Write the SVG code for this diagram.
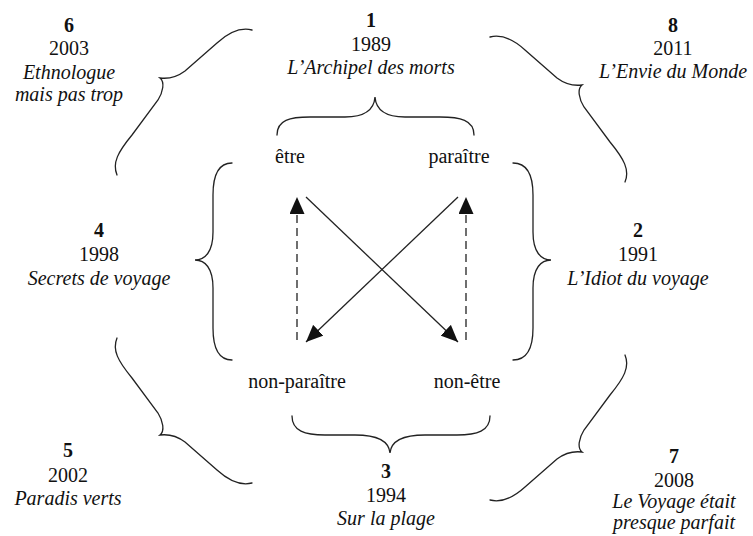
<svg xmlns="http://www.w3.org/2000/svg" xmlns:xlink="http://www.w3.org/1999/xlink" width="753" height="536" viewBox="0 0 753 536">
<style>
text{font-family:"Liberation Serif","Times New Roman",serif;font-size:20px;fill:#111;text-anchor:middle}
.num{font-weight:bold}
.ttl{font-style:italic}
.brace{fill:none;stroke:#222;stroke-width:1.3;stroke-linecap:round}
.arr{fill:none;stroke:#222;stroke-width:1.3}
.dash{stroke-dasharray:8 5}
</style>
<defs>
<marker id="ah" viewBox="0 0 17 15" refX="17" refY="7.5" markerWidth="17" markerHeight="15" markerUnits="userSpaceOnUse" orient="auto">
<path d="M0,0 L17,7.5 L0,15 Z" fill="#111"/>
</marker>
<path id="diag" class="brace" d="M252,30 C240,27 228,33 217,43 L185,71 C177,77 168,79 160,78 C165,82 163,92 158,100 L132,135 C118,152 112,163 117,175"/>
</defs>
<rect width="753" height="536" fill="#fff"/>
<g id="braces">
<path class="brace" d="M277,135 C277,120 290,117 310,117 L345,117 C365,117 374,110 375,97 C376,110 385,117 405,117 L440,117 C460,117 474,120 474,135"/>
<path class="brace" d="M292,416 C292,431 305,435 325,435 L355,435 C380,435 389,442 390,453 C391,442 400,435 425,435 L457,435 C477,435 490,431 490,416"/>
<path class="brace" d="M232,163 C218,163 213,175 213,195 L213,232 C213,252 205,260 195,260 C205,260 213,268 213,288 L213,328 C213,348 218,360 232,360"/>
<path class="brace" d="M513,163 C527,163 533,175 533,195 L533,232 C533,252 541,260 551,260 C541,260 533,268 533,288 L533,328 C533,348 527,360 513,360"/>
<use xlink:href="#diag"/>
<use xlink:href="#diag" transform="matrix(-1 0 0 1 742 7)"/>
<use xlink:href="#diag" transform="matrix(1 0 0 -1 0 513)"/>
<use xlink:href="#diag" transform="matrix(-1 0 0 -1 742 530)"/>
</g>
<g id="connectors">
<line class="arr dash" x1="297" y1="340" x2="297" y2="197" marker-end="url(#ah)"/>
<line class="arr dash" x1="466" y1="340" x2="466" y2="197" marker-end="url(#ah)"/>
<line class="arr" x1="306" y1="197" x2="458" y2="342" marker-end="url(#ah)"/>
<line class="arr" x1="458" y1="197" x2="306" y2="342" marker-end="url(#ah)"/>
</g>
<g id="n1"><text class="num" x="371" y="27">1</text><text x="371" y="51">1989</text><text class="ttl" x="371" y="74">L’Archipel des morts</text></g>
<g id="n2"><text class="num" x="638" y="237">2</text><text x="638" y="261">1991</text><text class="ttl" x="638" y="285">L’Idiot du voyage</text></g>
<g id="n3"><text class="num" x="386" y="478">3</text><text x="386" y="502">1994</text><text class="ttl" x="386" y="525">Sur la plage</text></g>
<g id="n4"><text class="num" x="99" y="237">4</text><text x="99" y="261">1998</text><text class="ttl" x="99" y="285">Secrets de voyage</text></g>
<g id="n5"><text class="num" x="68" y="457">5</text><text x="68" y="482">2002</text><text class="ttl" x="68" y="505">Paradis verts</text></g>
<g id="n6"><text class="num" x="69" y="32">6</text><text x="69" y="55">2003</text><text class="ttl" x="69" y="79">Ethnologue</text><text class="ttl" x="69" y="101">mais pas trop</text></g>
<g id="n7"><text class="num" x="674" y="463">7</text><text x="674" y="487">2008</text><text class="ttl" x="674" y="508">Le Voyage était</text><text class="ttl" x="674" y="529">presque parfait</text></g>
<g id="n8"><text class="num" x="673" y="32">8</text><text x="673" y="55">2011</text><text class="ttl" x="673" y="78">L’Envie du Monde</text></g>
<g id="etre"><text x="290" y="163">être</text></g>
<g id="paraitre"><text x="459" y="163">paraître</text></g>
<g id="non-paraitre"><text x="297" y="388">non-paraître</text></g>
<g id="non-etre"><text x="467" y="388">non-être</text></g>
</svg>
